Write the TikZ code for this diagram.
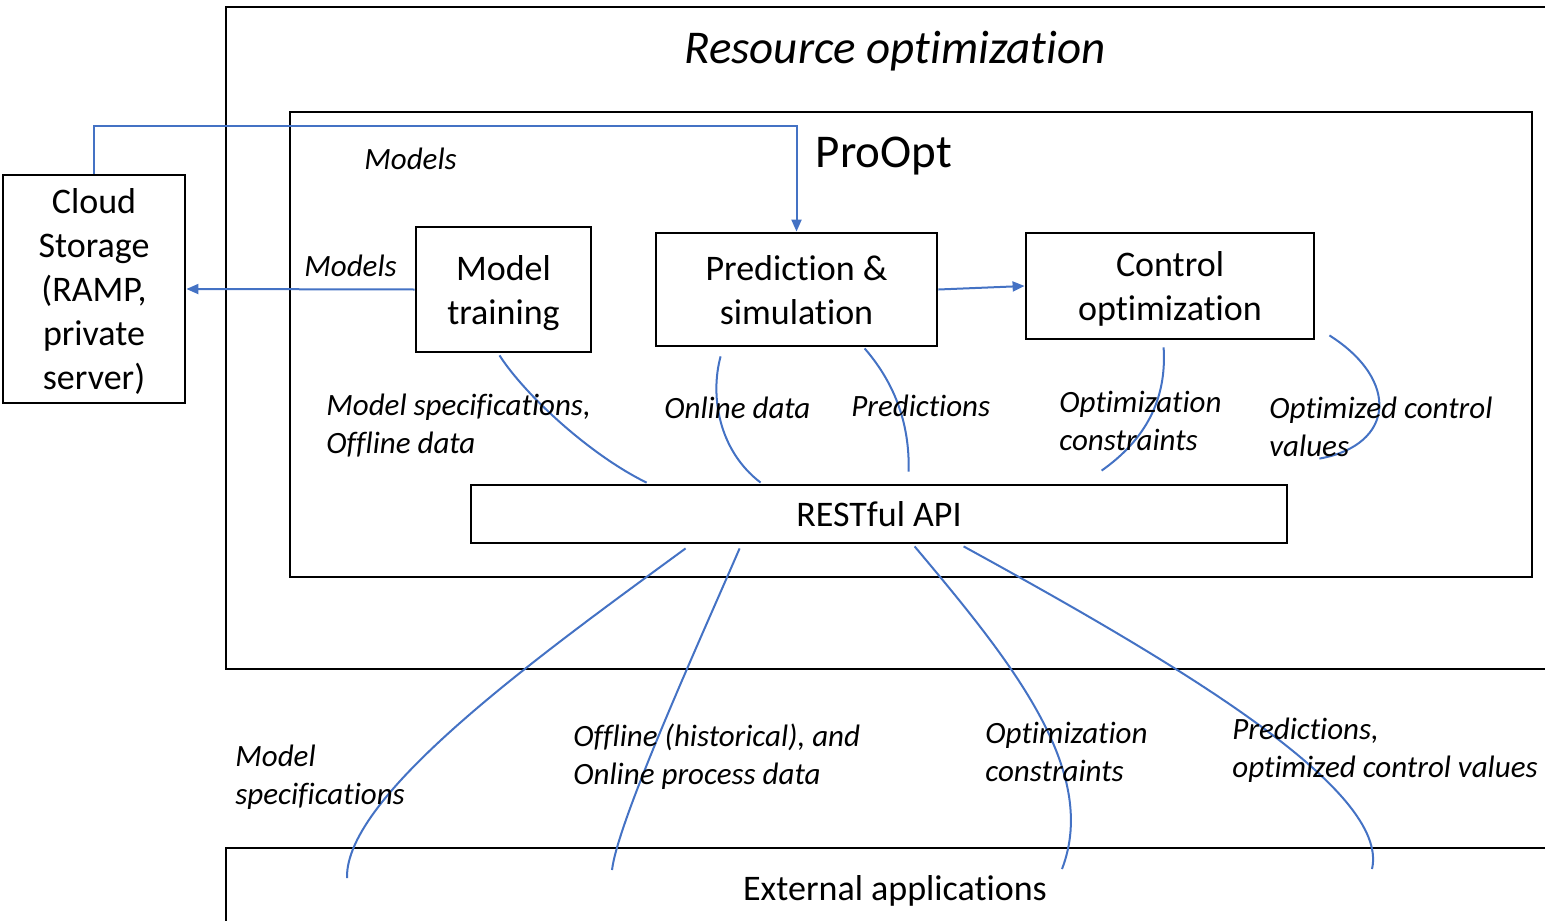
\documentclass[tikz,border=0pt]{standalone}
\usepackage{fontspec}
\setmainfont{Carlito}[Ligatures=NoCommon]
\usetikzlibrary{arrows.meta,calc}
\definecolor{linkblue}{RGB}{68,114,196}
\tikzstyle{frame}=[draw,line width=1.4pt]
\tikzstyle{block}=[draw,line width=1.4pt,align=center,inner sep=2pt,text depth=0pt,font=\fontsize{18}{22}\selectfont]
\tikzstyle{flow}=[draw,linkblue,line width=1pt]
\tikzstyle{flow arrow}=[flow,-{Triangle[length=6pt,width=5pt]}]
\tikzstyle{lbl}=[anchor=west,inner sep=0pt,align=left,font=\fontsize{15.5}{19}\selectfont\itshape]

\begin{document}
\begin{tikzpicture}[x=0.5pt,y=-0.5pt]
\useasboundingbox (0,0) rectangle (1545,920);
\clip (0,0) rectangle (1545,920);

% outer frames, they run off the page on the right
\draw[frame] (226,7) rectangle (1600,669);
\node[font=\fontsize{23.5}{28}\selectfont\itshape] (title) at (895,51) {Resource optimization};
\draw[frame] (290,112) rectangle (1532,577);
\node[font=\fontsize{23.5}{28}\selectfont] (proopt) at (884,156) {ProOpt};
\draw[frame] (226,848) coordinate (extnw) rectangle (1600,980);
\node[font=\fontsize{18}{22}\selectfont] (ext) at (895,891) {External applications};

% the blocks
\node[block,minimum width=91pt,minimum height=114pt] (cloud) at (94,289) {Cloud\\Storage\\(RAMP,\\private\\server)};
\node[block,minimum width=87.5pt,minimum height=62.5pt] (mt) at (503.5,289.5) {Model\\training};
\node[block,minimum width=140.5pt,minimum height=56.5pt] (ps) at (796.5,289.5) {Prediction \&\\simulation};
\node[block,minimum width=144pt,minimum height=53pt] (co) at (1170,286) {Control\\optimization};
\node[block,minimum width=408pt,minimum height=29pt] (api) at (879,514) {RESTful API};

% arrows
\draw[flow arrow] (cloud.north) -- ++(0,-48) -| (ps.north);
\draw[flow arrow] (mt.west) -- (cloud.east);
\draw[flow arrow] (ps.east) -- (co.west);

% data links into the API
\coordinate (ocv end) at ($(api.north east)+(31,-25)$);
\draw[flow] ($(mt.south)+(-4,2)$) .. controls (525,395) and (590,455) .. ($(api.north west)+(177,-1)$);
\draw[flow] ($(ps.south west)+(66,9)$) .. controls (710,395) and (718,450) .. ($(api.north west)+(291,-1)$);
\draw[flow] ($(ps.south west)+(210,1)$) .. controls (892,380) and (910,420) .. ($(api.north west)+(439,-12)$);
\draw[flow] ($(co.south west)+(139,7)$) .. controls (1167,400) and (1145,440) .. ($(api.north west)+(632,-13)$);
\draw[flow] ($(co.south east)+(14,-5)$) .. controls (1400,380) and (1395,445) .. (ocv end);

% API to external applications
\draw[flow] ($(api.south west)+(216,4)$) .. controls (540,655) and (345,795) .. ($(extnw)+(121,30)$);
\draw[flow] ($(api.south west)+(270,4)$) .. controls (700,640) and (618,820) .. ($(extnw)+(386,22)$);
\draw[flow] ($(api.south west)+(445,2)$) .. controls (1010,660) and (1100,770) .. ($(extnw)+(836,21)$);
\draw[flow] ($(api.south west)+(494,2)$) .. controls (1180,665) and (1390,790) .. ($(extnw)+(1146,21)$);

% labels
\foreach \pos/\name/\txt in {(364,159)/lmodels/Models, (304,266)/lmodelsb/Models,
  (326,426)/lspec/{Model specifications,\\Offline data}, (664,408)/lonline/Online data,
  (851,406)/lpred/Predictions, (1059,421)/lcons/{Optimization\\constraints},
  (1269,427)/lopt/{Optimized control\\values}, (235,777)/lspecx/{Model\\specifications},
  (573,757)/ldata/{Offline (historical), and\\Online process data},
  (985,752)/lconsx/{Optimization\\constraints},
  (1232,750)/lpredx/{Predictions,\\optimized control values}}
  \node[lbl] (\name) at \pos {\txt};
\end{tikzpicture}
\end{document}
